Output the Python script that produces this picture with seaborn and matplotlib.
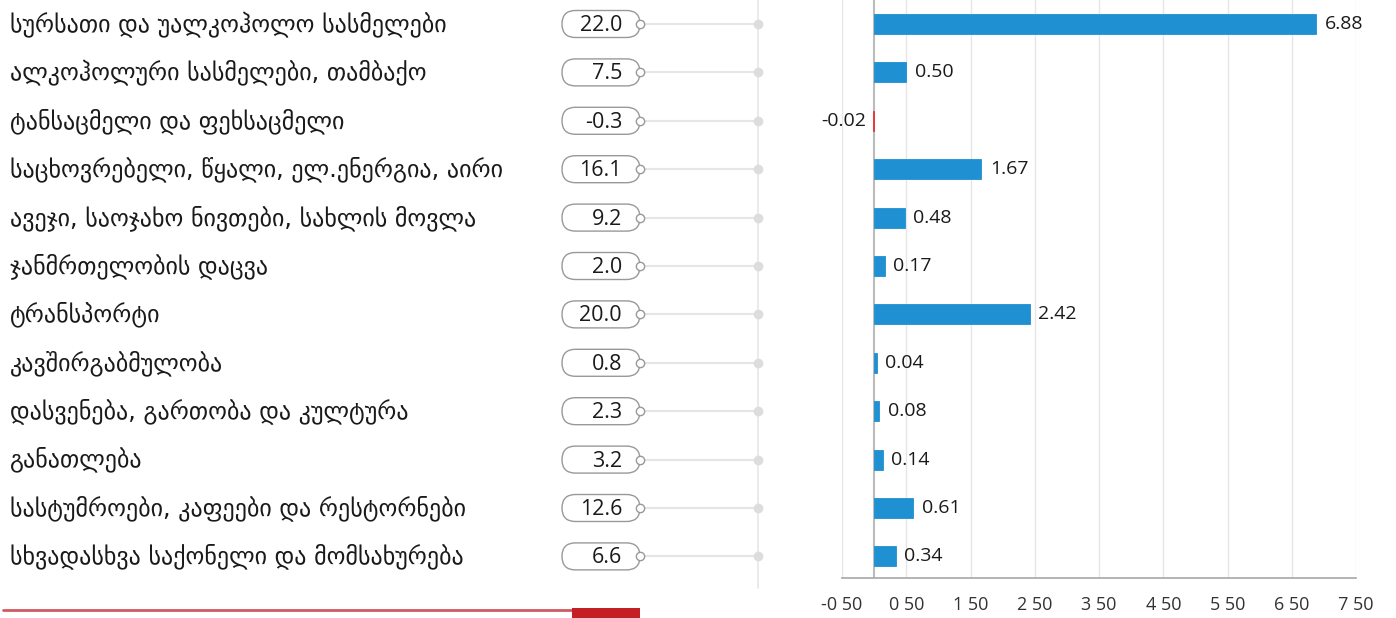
import matplotlib
matplotlib.use("Agg")
import matplotlib.pyplot as plt
import seaborn as sns
import pandas as pd
import numpy as np
from matplotlib.patches import FancyBboxPatch, Rectangle
from matplotlib.lines import Line2D

categories = [
    "სურსათი და უალკოჰოლო სასმელები",
    "ალკოჰოლური სასმელები, თამბაქო",
    "ტანსაცმელი და ფეხსაცმელი",
    "საცხოვრებელი, წყალი, ელ.ენერგია, აირი",
    "ავეჯი, საოჯახო ნივთები, სახლის მოვლა",
    "ჯანმრთელობის დაცვა",
    "ტრანსპორტი",
    "კავშირგაბმულობა",
    "დასვენება, გართობა და კულტურა",
    "განათლება",
    "სასტუმროები, კაფეები და რესტორნები",
    "სხვადასხვა საქონელი და მომსახურება",
]
weights = [22.0, 7.5, -0.3, 16.1, 9.2, 2.0, 20.0, 0.8, 2.3, 3.2, 12.6, 6.6]
contrib = [6.88, 0.50, -0.02, 1.67, 0.48, 0.17, 2.42, 0.04, 0.08, 0.14, 0.61, 0.34]
x_ticks = [-0.5, 0.5, 1.5, 2.5, 3.5, 4.5, 5.5, 6.5, 7.5]

BLUE = "#1f90d1"
RED = "#e8303a"
TXT = "#1a1a1a"
GRID = "#e6e6e6"

df = pd.DataFrame({"cat": categories, "val": contrib,
                   "sign": ["neg" if v < 0 else "pos" for v in contrib]})

sns.set_theme(style="white")
plt.rcParams["font.family"] = ["DejaVu Sans"]

W, H = 1396, 618
fig = plt.figure(figsize=(W / 100, H / 100), dpi=100)

row0, step = 24.0, 48.4
ax_bottom_px, ax_top_px = 578.0, 0.0
y_lo = (ax_bottom_px - row0) / step
y_hi = (ax_top_px - row0) / step

# ---- right: bars ----
ax = fig.add_axes([842 / W, (H - ax_bottom_px) / H, (1356 - 842) / W, ax_bottom_px / H])
ax.axvline(0, color="#bbbbbb", lw=1.5, zorder=0.8)
sns.barplot(data=df, x="val", y="cat", hue="sign", orient="h",
            palette={"pos": BLUE, "neg": RED}, width=0.41, dodge=False,
            legend=False, ax=ax, saturation=1, zorder=2)
for patch in ax.patches:
    patch.set_edgecolor(patch.get_facecolor())
    patch.set_linewidth(0.6)
ax.set_xlim(x_ticks[0], x_ticks[-1])
ax.set_ylim(y_lo, y_hi)
ax.set_xticks(x_ticks)
ax.set_xticklabels([("%.2f" % t).replace(".", " ") for t in x_ticks],
                   fontsize=13, color="#333333", family="Open Sans")
ax.set_yticks([])
ax.set_ylabel("")
ax.set_xlabel("")
ax.tick_params(axis="x", length=7, width=1, color="#aaaaaa", direction="out", pad=6)
for s in ["top", "right", "left"]:
    ax.spines[s].set_visible(False)
ax.spines["bottom"].set_color("#aaaaaa")
ax.grid(axis="x", color=GRID, lw=1)
ax.set_axisbelow(True)
for i, v in enumerate(contrib):
    if v >= 0:
        ax.annotate(f"{v:.2f}", (v, i), xytext=(6, 0), textcoords="offset points",
                    ha="left", va="center", fontsize=14, color=TXT, family="Open Sans")
    else:
        ax.annotate(f"{v:.2f}", (v, i), xytext=(-5, 0), textcoords="offset points",
                    ha="right", va="center", fontsize=14, color=TXT, family="Open Sans")

# ---- left: labels + weight pills ----
axl = fig.add_axes([0, (H - ax_bottom_px) / H, 842 / W, ax_bottom_px / H])
axl.set_xlim(0, 842)
axl.set_ylim(y_lo, y_hi)
axl.axis("off")

pill_l, pill_r, pill_h = 562, 640, 27 / step
conn_x = 758
axl.plot([conn_x, conn_x], [y_hi, (588 - row0) / step], color=GRID, lw=1.2,
         clip_on=False, zorder=1)
for i, (c, w) in enumerate(zip(categories, weights)):
    axl.text(10, i, c, ha="left", va="center", fontsize=17.3, color=TXT)
    axl.plot([pill_r, conn_x], [i, i], color=GRID, lw=1.5, zorder=1)
    axl.plot([conn_x], [i], "o", ms=6, color="#dddddd", zorder=2)
    p = FancyBboxPatch((pill_l, i - pill_h / 2), pill_r - pill_l, pill_h,
                       boxstyle="round,pad=0,rounding_size=13.5",
                       mutation_aspect=1 / step, fc="white", ec="#999999", lw=1.0,
                       zorder=3)
    axl.add_patch(p)
    axl.plot([pill_r], [i], "o", ms=6, mfc="white", mec="#999999", mew=1, zorder=4)
    axl.text(622, i + 0.03, f"{w:.1f}", ha="right", va="center", fontsize=15.5,
             color=TXT, family="Open Sans", zorder=5)

# bottom red rule
fig.add_artist(Line2D([3 / W, 572 / W], [(H - 609.5) / H] * 2, transform=fig.transFigure,
                      color="#d05a5f", lw=2, zorder=1))
fig.add_artist(Rectangle((572 / W, 0), 68 / W, 10 / H,
                         transform=fig.transFigure, color="#c41f27", lw=0, zorder=2))

fig.savefig("out.png", dpi=100)
